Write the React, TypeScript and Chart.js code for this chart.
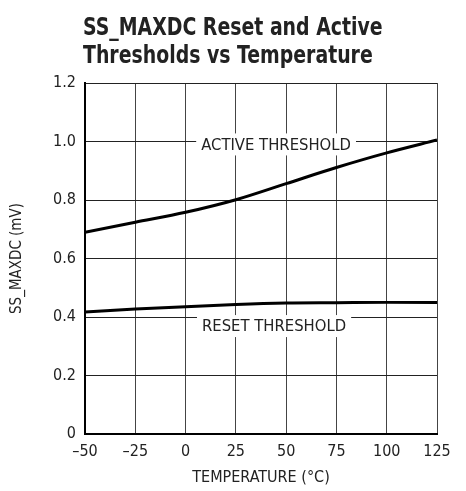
import React, { useEffect, useRef } from "react";
import { Chart, registerables } from "chart.js";

Chart.register(...registerables);

const temperatures = [-50, -25, 0, 25, 50, 75, 100, 125];
const activeThreshold = [0.69, 0.724, 0.758, 0.801, 0.856, 0.911, 0.961, 1.005];
const resetThreshold = [0.417, 0.427, 0.435, 0.443, 0.448, 0.449, 0.45, 0.45];
const titleLines = ["SS_MAXDC Reset and Active", "Thresholds vs Temperature"];
const xTicks = [-50, -25, 0, 25, 50, 75, 100, 125];
const curveLabels = [
  { text: "ACTIVE THRESHOLD", x: 45, y: 0.99 },
  { text: "RESET THRESHOLD", x: 44, y: 0.369 },
];

const FONT = '"Liberation Sans Narrow", "DejaVu Sans Condensed", sans-serif';

const overlayPlugin = {
  id: "overlay",
  afterDatasetsDraw(chart: any) {
    const { ctx, chartArea, scales } = chart;
    ctx.save();
    ctx.font = `16.5px ${FONT}`;
    ctx.textAlign = "center";
    ctx.textBaseline = "middle";
    for (const l of curveLabels) {
      const px = scales.x.getPixelForValue(l.x);
      const py = scales.y.getPixelForValue(l.y);
      const w = ctx.measureText(l.text).width + 10;
      ctx.fillStyle = "#fff";
      ctx.fillRect(px - w / 2, py - 11, w, 22);
      ctx.fillStyle = "#222";
      ctx.fillText(l.text, px, py + 1);
    }
    ctx.restore();
    ctx.save();
    ctx.font = `bold 21px ${FONT}`;
    ctx.textAlign = "left";
    ctx.textBaseline = "alphabetic";
    ctx.fillStyle = "#222";
    ctx.scale(1, 1.22);
    titleLines.forEach((t, i) => ctx.fillText(t, chartArea.left - 2, (35 + i * 27.5) / 1.22));
    ctx.restore();
  },
};

export default function App() {
  const ref = useRef<HTMLCanvasElement>(null);
  useEffect(() => {
    const chart = new Chart(ref.current!, {
      type: "line",
      data: {
        labels: temperatures,
        datasets: [
          {
            data: temperatures.map((t, i) => ({ x: t, y: activeThreshold[i] })),
            borderColor: "#000",
            borderWidth: 3,
            pointRadius: 0,
            cubicInterpolationMode: "monotone",
          },
          {
            data: temperatures.map((t, i) => ({ x: t, y: resetThreshold[i] })),
            borderColor: "#000",
            borderWidth: 3,
            pointRadius: 0,
            cubicInterpolationMode: "monotone",
          },
        ],
      },
      options: {
        animation: false,
        responsive: false,
        maintainAspectRatio: false,
        layout: { padding: { left: 0, right: 29, top: 83, bottom: 0 } },
        plugins: { legend: { display: false }, tooltip: { enabled: false } },
        scales: {
          x: {
            type: "linear",
            min: -50,
            max: 125,
            afterBuildTicks: (s: any) => {
              s.ticks = xTicks.map((v) => ({ value: v }));
            },
            afterFit: (s: any) => {
              s.height = 57;
            },
            grid: { color: "#444", lineWidth: 1, drawTicks: false },
            border: { color: "#000", width: 2 },
            ticks: {
              color: "#222",
              font: { family: FONT, size: 16 },
              padding: 8,
              maxRotation: 0,
              callback: (v: any) => (Number(v) < 0 ? "\u2013" + Math.abs(Number(v)) : String(v)),
            },
            title: {
              display: true,
              text: "TEMPERATURE (°C)",
              color: "#222",
              font: { family: FONT, size: 16 },
              padding: { top: 2 },
            },
          },
          y: {
            min: 0,
            max: 1.2,
            afterFit: (s: any) => {
              s.width = 85;
            },
            grid: { color: "#222", lineWidth: 1, drawTicks: false },
            border: { color: "#000", width: 2 },
            ticks: {
              stepSize: 0.2,
              color: "#222",
              font: { family: FONT, size: 16 },
              padding: 9,
              callback: (v: any) => (Number(v) === 0 ? "0" : Number(v).toFixed(1)),
            },
            title: {
              display: true,
              text: "SS_MAXDC (mV)",
              color: "#222",
              font: { family: FONT, size: 15 },
              padding: { top: 8 },
            },
          },
        },
      },
      plugins: [overlayPlugin],
    } as any);
    return () => chart.destroy();
  }, []);
  return (
    <div style={{ position: "fixed", left: 0, top: 0, width: 466, height: 491, background: "#fff" }}>
      <canvas ref={ref} width={466} height={491} style={{ width: 466, height: 491 }} />
    </div>
  );
}
